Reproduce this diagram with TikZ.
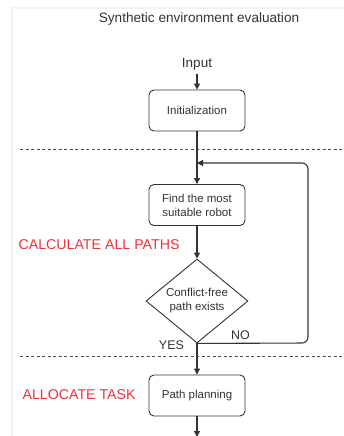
\documentclass[tikz,border=0pt]{standalone}
\usepackage{fontspec}
\setmainfont{Liberation Sans}
\usetikzlibrary{shapes.geometric,arrows.meta}
\definecolor{redlbl}{HTML}{F0303A}
\definecolor{linecol}{HTML}{333333}
\definecolor{framecol}{HTML}{F2F2F2}
\tikzset{
  procbox/.style={draw=linecol, line width=0.9pt, rounded corners=5pt, minimum width=96pt, minimum height=41pt, inner sep=0pt, align=center, font=\fontsize{11.5}{14}\selectfont, text=black!80},
  decision/.style={diamond, draw=linecol, line width=0.9pt, minimum width=102pt, minimum height=84pt, inner sep=0pt, aspect=1.21, align=center, font=\fontsize{11.5}{14}\selectfont, text=black!80},
  flow/.style={draw=linecol, line width=1.1pt, -{Triangle[length=6pt,width=6pt]}},
  sepline/.style={draw=black!70, line width=0.8pt, dash pattern=on 3pt off 2.5pt},
  redtext/.style={text=redlbl, font=\fontsize{14.2}{16}\selectfont},
  plain/.style={text=black!80, font=\fontsize{12.5}{14}\selectfont}
}
\begin{document}
\begin{tikzpicture}[x=1pt,y=-1pt]
\useasboundingbox (0,0) rectangle (343,436);
\draw[framecol, line width=1.5pt] (12,436) -- (12,8) -- (343,8);
\node[plain, font=\fontsize{13.6}{15}\selectfont] (title) at (199,19) {Synthetic environment evaluation};
\node[plain, font=\fontsize{13.5}{15}\selectfont] (input) at (197,64) {Input};
\node[procbox] (init) at (197,110.5) {Initialization};
\node[procbox] (find) at (197,205) {Find the most\\suitable robot};
\node[decision] (dec) at (197,301) {Conflict-free\\path exists};
\node[procbox] (path) at (197,395.5) {Path planning};
\node[redtext, anchor=west] (calc) at (15,245) {CALCULATE ALL PATHS};
\node[redtext, anchor=west] (alloc) at (19,394.5) {ALLOCATE TASK};
\node[plain] (no) at (240.5,335) {NO};
\node[plain] (yes) at (171.5,345) {YES};
\coordinate (merge) at (197,163);
\coordinate (loopr) at (308,163);
\coordinate (loopb) at (308,343);
\coordinate (bottom) at (197,437);
\draw[sepline] (20,149) -- (343,149);
\draw[sepline] (20,356) -- (343,356);
\draw[flow] (input.south) -- (init.north);
\draw[flow] (init.south) -- (find.north);
\draw[flow] (find.south) -- (dec.north);
\draw[flow] (dec.south) -- (path.north);
\draw[flow] (path.south) -- (bottom);
\draw[flow, rounded corners=6pt] (dec.south) -- (loopb) -- (loopr) -- (merge);
\end{tikzpicture}
\end{document}
